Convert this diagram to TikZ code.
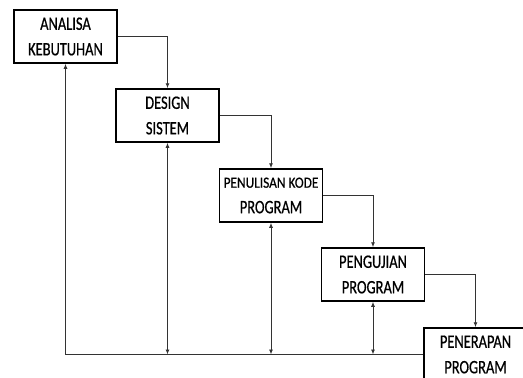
\documentclass[tikz,border=0pt]{standalone}
\usepackage{fontspec}
\newfontfamily\boxfont[FakeStretch=0.76,FakeBold=0.6]{Carlito}
\newfontfamily\boxfontw[FakeStretch=0.86,FakeBold=0.6]{Carlito}
\usetikzlibrary{arrows.meta}
\begin{document}
\begin{tikzpicture}[x=1pt,y=-1pt,
  box/.style={draw, line width=1.5pt, minimum width=103pt, minimum height=53pt,
    inner sep=0pt, align=center, font=\boxfont\fontsize{19}{25.5}\selectfont},
  arr/.style={-{Latex[length=5pt,width=4pt]}, line width=0.9pt, draw=black!80},
  darr/.style={{Latex[length=5pt,width=4pt]}-{Latex[length=5pt,width=4pt]}, line width=0.9pt, draw=black!80}]
\useasboundingbox (0,0) rectangle (523,378);
\clip (0,0) rectangle (523,378);
\node[box] (b1) at (65.5,36.5) {ANALISA\\KEBUTUHAN};
\node[box] (b2) at (167.5,115.5) {DESIGN\\SISTEM};
\node[box] (b3) at (271,195.5) {{\boxfontw\fontsize{15.5}{23.5}\selectfont PENULISAN KODE}\\PROGRAM};
\node[box] (b4) at (373,274.5) {PENGUJIAN\\PROGRAM};
\node[box] (b5) at (475.5,354.5) {PENERAPAN\\PROGRAM};
\draw[arr] (b1.east) -| (b2.north);
\draw[arr] (b2.east) -| (b3.north);
\draw[arr] (b3.east) -| (b4.north);
\draw[arr] (b4.east) -| (b5.north);
\draw[arr] (b5.west) -| (b1.south);
\draw[darr] (b2.south) -- (b2.south |- b5.west);
\draw[darr] (b3.south) -- (b3.south |- b5.west);
\draw[darr] (b4.south) -- (b4.south |- b5.west);
\end{tikzpicture}
\end{document}
